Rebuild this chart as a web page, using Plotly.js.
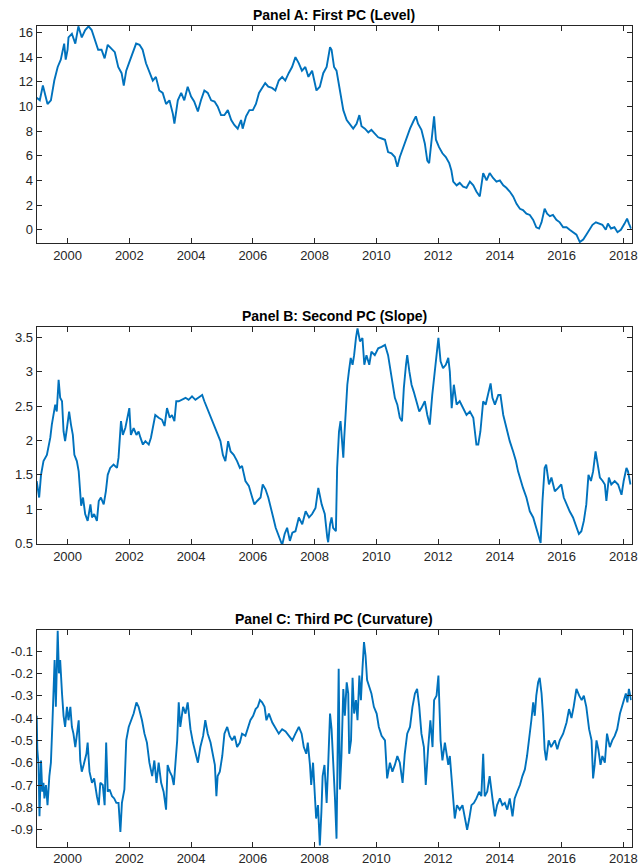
<!DOCTYPE html>
<html>
<head>
<meta charset="utf-8">
<script src="https://cdn.plot.ly/plotly-3.0.1.min.js"></script>
<style>html,body{margin:0;padding:0;background:#fff;}#chart{width:638px;height:866px;}</style>
</head>
<body>
<div id="chart"></div>
<script>
// ---------- Data ----------
const titles = ["Panel A: First PC (Level)", "Panel B: Second PC (Slope)", "Panel C: Third PC (Curvature)"];

const levelYears = [1999.0,1999.1,1999.2,1999.35,1999.46,1999.57,1999.68,1999.78,1999.89,1999.94,2000.0,2000.03,2000.14,2000.25,2000.35,2000.46,2000.57,2000.68,2000.78,2000.89,2000.99,2001.1,2001.2,2001.3,2001.42,2001.53,2001.64,2001.75,2001.82,2001.9,2002.0,2002.11,2002.22,2002.33,2002.43,2002.54,2002.65,2002.76,2002.86,2002.97,2003.08,2003.19,2003.3,2003.41,2003.46,2003.57,2003.68,2003.78,2003.89,2004.0,2004.1,2004.22,2004.32,2004.43,2004.54,2004.65,2004.76,2004.86,2004.97,2005.08,2005.19,2005.3,2005.4,2005.51,2005.62,2005.67,2005.78,2005.89,2006.0,2006.1,2006.2,2006.3,2006.4,2006.5,2006.62,2006.73,2006.84,2006.95,2007.05,2007.16,2007.27,2007.38,2007.49,2007.59,2007.7,2007.8,2007.92,2008.06,2008.17,2008.28,2008.39,2008.5,2008.55,2008.63,2008.71,2008.8,2008.87,2008.93,2009.04,2009.14,2009.25,2009.36,2009.45,2009.52,2009.63,2009.74,2009.84,2009.95,2010.06,2010.17,2010.28,2010.38,2010.49,2010.6,2010.68,2010.76,2010.87,2010.98,2011.09,2011.2,2011.28,2011.35,2011.46,2011.57,2011.65,2011.71,2011.79,2011.87,2011.93,2012.03,2012.14,2012.25,2012.36,2012.43,2012.49,2012.6,2012.7,2012.81,2012.92,2013.03,2013.14,2013.24,2013.35,2013.46,2013.57,2013.67,2013.78,2013.89,2014.0,2014.11,2014.21,2014.32,2014.43,2014.54,2014.65,2014.75,2014.86,2014.97,2015.08,2015.18,2015.27,2015.35,2015.45,2015.53,2015.62,2015.72,2015.83,2015.94,2016.05,2016.16,2016.26,2016.37,2016.48,2016.59,2016.7,2016.8,2016.9,2017.0,2017.11,2017.21,2017.32,2017.43,2017.5,2017.6,2017.71,2017.81,2017.92,2018.04,2018.12,2018.18,2018.25];
const levelValues = [10.7,10.5,11.7,10.2,10.5,12.1,13.2,13.8,15.1,13.8,14.6,15.6,15.9,15.1,16.5,15.6,16.2,16.5,16.2,15.4,14.6,14.6,13.9,15.0,14.7,14.4,13.2,12.7,11.7,12.9,13.6,14.3,15.1,15.0,14.6,13.5,12.8,12.1,12.4,11.3,11.1,10.2,10.5,9.4,8.6,10.5,11.1,10.5,11.6,10.8,10.4,9.6,10.5,11.3,11.1,10.5,10.4,10.0,9.3,9.3,9.7,8.9,8.5,8.2,8.9,8.2,9.2,9.7,9.7,10.2,11.1,11.5,11.9,11.6,11.5,11.3,12.1,12.4,12.1,12.7,13.2,14.0,13.5,12.9,13.2,12.4,12.9,11.3,11.6,12.7,13.2,14.8,14.6,13.2,12.9,11.6,10.5,9.7,8.9,8.6,8.2,8.6,9.3,8.4,8.2,7.9,8.1,7.8,7.5,7.4,7.3,6.3,6.2,5.9,5.1,5.9,6.7,7.4,8.2,8.8,9.2,8.6,8.1,7.0,5.6,5.4,7.5,9.2,7.3,6.7,6.2,5.9,5.4,4.8,3.9,3.6,3.8,3.5,3.4,3.9,3.6,3.1,2.7,4.6,4.0,4.6,4.2,3.9,4.0,3.6,3.4,3.1,2.7,2.1,1.7,1.6,1.3,1.2,0.8,0.2,0.1,0.6,1.7,1.3,1.1,1.2,0.8,0.6,0.2,0.2,0.0,-0.2,-0.4,-1.0,-0.8,-0.4,0.0,0.4,0.6,0.5,0.4,0.0,0.5,0.1,0.2,-0.2,0.0,0.5,0.9,0.5,0.1];

const slopeYears = [1999.0,1999.04,1999.08,1999.14,1999.22,1999.33,1999.44,1999.49,1999.55,1999.6,1999.65,1999.71,1999.76,1999.82,1999.87,1999.92,1999.98,2000.05,2000.11,2000.17,2000.22,2000.3,2000.36,2000.41,2000.44,2000.5,2000.57,2000.65,2000.74,2000.79,2000.86,2000.95,2001.01,2001.08,2001.17,2001.24,2001.3,2001.38,2001.49,2001.6,2001.65,2001.73,2001.79,2001.87,2001.95,2002.0,2002.05,2002.14,2002.23,2002.3,2002.36,2002.44,2002.52,2002.63,2002.7,2002.77,2002.84,2002.95,2003.06,2003.14,2003.22,2003.31,2003.38,2003.46,2003.52,2003.6,2003.71,2003.82,2003.92,2004.03,2004.14,2004.25,2004.36,2004.43,2004.52,2004.63,2004.74,2004.84,2004.95,2005.03,2005.11,2005.2,2005.28,2005.38,2005.49,2005.58,2005.65,2005.76,2005.87,2005.98,2006.05,2006.14,2006.25,2006.32,2006.41,2006.5,2006.57,2006.66,2006.74,2006.81,2006.9,2006.95,2007.03,2007.11,2007.2,2007.28,2007.38,2007.49,2007.6,2007.71,2007.82,2007.92,2008.03,2008.12,2008.23,2008.33,2008.41,2008.44,2008.5,2008.55,2008.6,2008.69,2008.73,2008.79,2008.84,2008.9,2008.93,2008.96,2009.0,2009.06,2009.11,2009.17,2009.23,2009.28,2009.34,2009.39,2009.47,2009.55,2009.61,2009.68,2009.77,2009.84,2009.95,2010.06,2010.17,2010.28,2010.38,2010.44,2010.52,2010.6,2010.68,2010.76,2010.83,2010.89,2010.96,2011.0,2011.07,2011.14,2011.21,2011.3,2011.39,2011.46,2011.57,2011.65,2011.73,2011.81,2011.89,2011.97,2012.01,2012.08,2012.16,2012.25,2012.33,2012.38,2012.44,2012.51,2012.6,2012.7,2012.81,2012.92,2013.03,2013.14,2013.24,2013.3,2013.37,2013.46,2013.54,2013.62,2013.7,2013.76,2013.84,2013.95,2014.02,2014.11,2014.21,2014.32,2014.43,2014.52,2014.59,2014.67,2014.75,2014.86,2014.97,2015.08,2015.18,2015.27,2015.32,2015.38,2015.45,2015.5,2015.59,2015.67,2015.78,2015.89,2015.99,2016.07,2016.16,2016.26,2016.37,2016.48,2016.56,2016.64,2016.72,2016.8,2016.87,2016.95,2017.02,2017.1,2017.15,2017.24,2017.33,2017.4,2017.45,2017.53,2017.61,2017.72,2017.83,2017.94,2018.01,2018.1,2018.15,2018.23];
const slopeValues = [1.41,1.26,1.17,1.5,1.7,1.79,2.04,2.23,2.37,2.52,2.42,2.88,2.62,2.57,2.13,1.99,2.18,2.42,2.23,2.08,1.79,1.7,1.55,1.21,1.05,1.17,0.93,0.83,1.07,0.88,0.93,0.83,1.12,1.17,1.07,1.26,1.5,1.6,1.65,1.6,1.75,2.28,2.08,2.18,2.33,2.47,2.08,2.18,2.08,2.13,2.04,1.94,1.99,1.94,2.04,2.23,2.37,2.33,2.3,2.21,2.47,2.33,2.37,2.28,2.57,2.57,2.59,2.62,2.59,2.64,2.59,2.62,2.66,2.57,2.47,2.37,2.23,2.13,1.99,1.79,1.7,1.99,1.84,1.79,1.7,1.6,1.63,1.41,1.34,1.17,1.07,1.12,1.17,1.36,1.29,1.17,1.02,0.88,0.73,0.64,0.54,0.48,0.64,0.73,0.54,0.66,0.68,0.88,0.78,0.97,0.88,0.93,1.02,1.31,1.07,0.93,0.59,0.52,0.78,0.88,0.73,0.68,1.6,2.13,2.28,1.94,1.75,2.04,2.42,2.81,3.0,3.2,3.1,3.24,3.49,3.63,3.44,3.49,3.1,3.24,3.1,3.29,3.24,3.34,3.36,3.39,3.24,3.05,2.86,2.62,2.52,2.33,2.28,2.76,3.1,3.24,3.0,2.81,2.71,2.57,2.42,2.47,2.57,2.37,2.23,2.66,3.0,3.29,3.49,3.15,3.05,3.1,3.2,3.0,2.47,2.81,2.52,2.57,2.47,2.37,2.42,2.33,1.94,1.94,2.13,2.57,2.52,2.66,2.83,2.62,2.52,2.66,2.66,2.37,2.18,1.99,1.84,1.7,1.55,1.41,1.31,1.17,0.97,0.88,0.73,0.59,0.51,1.12,1.6,1.65,1.36,1.46,1.26,1.31,1.36,1.17,1.07,0.97,0.88,0.73,0.64,0.68,0.83,1.07,1.5,1.41,1.55,1.84,1.7,1.46,1.41,1.36,1.12,1.46,1.36,1.41,1.36,1.21,1.41,1.6,1.55,1.36];

const curvYears = [1999.0,1999.02,1999.06,1999.09,1999.14,1999.18,1999.22,1999.25,1999.3,1999.35,1999.41,1999.46,1999.51,1999.55,1999.58,1999.62,1999.68,1999.72,1999.76,1999.82,1999.87,1999.92,1999.98,2000.03,2000.09,2000.14,2000.19,2000.25,2000.3,2000.36,2000.41,2000.46,2000.52,2000.61,2000.65,2000.71,2000.79,2000.86,2000.95,2001.01,2001.06,2001.14,2001.2,2001.25,2001.3,2001.36,2001.44,2001.51,2001.58,2001.65,2001.71,2001.76,2001.84,2001.9,2001.98,2002.05,2002.14,2002.23,2002.3,2002.41,2002.49,2002.57,2002.65,2002.74,2002.81,2002.88,2002.95,2003.03,2003.11,2003.19,2003.24,2003.31,2003.38,2003.44,2003.49,2003.55,2003.6,2003.65,2003.74,2003.82,2003.89,2003.98,2004.06,2004.14,2004.22,2004.3,2004.39,2004.46,2004.54,2004.63,2004.7,2004.77,2004.82,2004.86,2004.93,2005.01,2005.08,2005.17,2005.25,2005.33,2005.41,2005.49,2005.58,2005.65,2005.76,2005.84,2005.92,2006.01,2006.09,2006.16,2006.23,2006.3,2006.38,2006.44,2006.52,2006.63,2006.74,2006.84,2006.95,2007.06,2007.17,2007.28,2007.38,2007.49,2007.58,2007.65,2007.73,2007.78,2007.85,2007.89,2007.95,2008.0,2008.05,2008.11,2008.17,2008.22,2008.26,2008.32,2008.39,2008.44,2008.5,2008.55,2008.6,2008.66,2008.71,2008.74,2008.78,2008.82,2008.87,2008.93,2008.98,2009.04,2009.09,2009.12,2009.18,2009.23,2009.28,2009.34,2009.39,2009.45,2009.5,2009.55,2009.6,2009.65,2009.7,2009.77,2009.84,2009.92,2010.01,2010.08,2010.17,2010.28,2010.35,2010.44,2010.52,2010.6,2010.68,2010.76,2010.85,2010.92,2011.0,2011.09,2011.17,2011.25,2011.32,2011.39,2011.46,2011.54,2011.6,2011.68,2011.75,2011.82,2011.87,2011.95,2012.01,2012.08,2012.14,2012.22,2012.27,2012.33,2012.38,2012.43,2012.49,2012.54,2012.61,2012.7,2012.79,2012.87,2012.94,2013.01,2013.08,2013.16,2013.24,2013.33,2013.4,2013.46,2013.51,2013.59,2013.67,2013.76,2013.84,2013.91,2014.0,2014.08,2014.16,2014.24,2014.32,2014.41,2014.48,2014.56,2014.65,2014.73,2014.81,2014.88,2014.95,2015.02,2015.08,2015.13,2015.18,2015.24,2015.29,2015.35,2015.4,2015.45,2015.5,2015.58,2015.66,2015.78,2015.86,2015.94,2016.05,2016.16,2016.24,2016.32,2016.39,2016.48,2016.57,2016.65,2016.72,2016.8,2016.89,2016.97,2017.02,2017.07,2017.13,2017.19,2017.26,2017.32,2017.4,2017.47,2017.56,2017.64,2017.72,2017.8,2017.89,2017.96,2018.02,2018.08,2018.13,2018.18,2018.25];
const curvValues = [-0.39,-0.54,-0.61,-0.84,-0.59,-0.73,-0.69,-0.76,-0.70,-0.79,-0.66,-0.60,-0.42,-0.29,-0.14,-0.35,-0.01,-0.20,-0.14,-0.29,-0.39,-0.44,-0.35,-0.41,-0.35,-0.44,-0.47,-0.53,-0.47,-0.41,-0.59,-0.64,-0.61,-0.56,-0.51,-0.64,-0.69,-0.67,-0.75,-0.79,-0.69,-0.70,-0.79,-0.51,-0.73,-0.72,-0.75,-0.76,-0.78,-0.78,-0.91,-0.78,-0.72,-0.50,-0.44,-0.41,-0.38,-0.33,-0.35,-0.41,-0.47,-0.51,-0.60,-0.66,-0.59,-0.69,-0.60,-0.69,-0.73,-0.81,-0.61,-0.64,-0.66,-0.70,-0.60,-0.50,-0.33,-0.44,-0.35,-0.38,-0.33,-0.45,-0.51,-0.56,-0.60,-0.53,-0.48,-0.41,-0.47,-0.51,-0.56,-0.61,-0.75,-0.66,-0.64,-0.57,-0.47,-0.44,-0.48,-0.50,-0.48,-0.53,-0.51,-0.47,-0.48,-0.44,-0.41,-0.39,-0.36,-0.35,-0.32,-0.33,-0.35,-0.41,-0.38,-0.42,-0.45,-0.47,-0.45,-0.46,-0.48,-0.50,-0.47,-0.44,-0.47,-0.53,-0.56,-0.51,-0.61,-0.70,-0.60,-0.76,-0.85,-0.79,-0.97,-0.82,-0.66,-0.61,-0.78,-0.61,-0.38,-0.45,-0.57,-0.76,-0.94,-0.57,-0.18,-0.72,-0.57,-0.27,-0.39,-0.24,-0.29,-0.56,-0.50,-0.22,-0.38,-0.32,-0.41,-0.21,-0.32,-0.18,-0.06,-0.12,-0.23,-0.26,-0.29,-0.35,-0.38,-0.44,-0.48,-0.50,-0.67,-0.60,-0.64,-0.61,-0.57,-0.60,-0.69,-0.56,-0.47,-0.44,-0.35,-0.29,-0.27,-0.35,-0.47,-0.53,-0.70,-0.53,-0.41,-0.53,-0.32,-0.30,-0.21,-0.50,-0.59,-0.51,-0.56,-0.61,-0.57,-0.67,-0.76,-0.85,-0.79,-0.81,-0.79,-0.85,-0.90,-0.85,-0.79,-0.78,-0.76,-0.73,-0.75,-0.56,-0.75,-0.73,-0.66,-0.76,-0.84,-0.79,-0.76,-0.79,-0.78,-0.81,-0.76,-0.84,-0.76,-0.73,-0.70,-0.66,-0.63,-0.57,-0.50,-0.41,-0.33,-0.39,-0.30,-0.24,-0.22,-0.29,-0.39,-0.54,-0.59,-0.50,-0.53,-0.50,-0.54,-0.50,-0.47,-0.42,-0.36,-0.40,-0.35,-0.27,-0.30,-0.32,-0.30,-0.35,-0.45,-0.50,-0.67,-0.61,-0.50,-0.54,-0.61,-0.57,-0.60,-0.47,-0.53,-0.50,-0.48,-0.45,-0.38,-0.35,-0.32,-0.29,-0.33,-0.27,-0.32];

const xTickVals = [2000,2002,2004,2006,2008,2010,2012,2014,2016,2018];
const xTickText = ["2000","2002","2004","2006","2008","2010","2012","2014","2016","2018"];
const levelTickVals = [0,2,4,6,8,10,12,14,16];
const levelTickText = ["0","2","4","6","8","10","12","14","16"];
const slopeTickVals = [0.5,1,1.5,2,2.5,3,3.5];
const slopeTickText = ["0.5","1","1.5","2","2.5","3","3.5"];
const curvTickVals = [-0.9,-0.8,-0.7,-0.6,-0.5,-0.4,-0.3,-0.2,-0.1];
const curvTickText = ["-0.9","-0.8","-0.7","-0.6","-0.5","-0.4","-0.3","-0.2","-0.1"];

// ---------- Layout ----------
const W = 638, H = 866;
const xLeft = 36.7, xRight = 631.7;
const panels = [
  {top: 25.7, bottom: 243.3, range: [-1.1, 16.55], tv: levelTickVals, tt: levelTickText, x: levelYears, y: levelValues},
  {top: 327.3, bottom: 544.3, range: [0.49, 3.645], tv: slopeTickVals, tt: slopeTickText, x: slopeYears, y: slopeValues},
  {top: 630.0, bottom: 846.7, range: [-0.976, -0.006], tv: curvTickVals, tt: curvTickText, x: curvYears, y: curvValues}
];
const fontFam = "'Liberation Sans', Arial, Helvetica, sans-serif";
const axisCol = "#262626";

const traces = [];
const layout = {
  width: W, height: H,
  margin: {l: 0, r: 0, t: 0, b: 0},
  paper_bgcolor: "#ffffff", plot_bgcolor: "#ffffff",
  showlegend: false,
  font: {family: fontFam, size: 13, color: axisCol},
  annotations: []
};

panels.forEach((p, i) => {
  const n = i === 0 ? "" : String(i + 1);
  traces.push({
    type: "scatter", mode: "lines",
    x: p.x, y: p.y,
    xaxis: "x" + n, yaxis: "y" + n,
    line: {color: "#0072BD", width: 1.9},
    hoverinfo: "skip"
  });
  const common = {
    showline: true, linecolor: axisCol, linewidth: 1, mirror: "ticks",
    ticks: "inside", ticklen: 5, tickwidth: 1, tickcolor: axisCol,
    showgrid: false, zeroline: false,
    tickfont: {family: fontFam, size: 13, color: axisCol},
    fixedrange: true
  };
  layout["xaxis" + n] = Object.assign({}, common, {
    domain: [xLeft / W, xRight / W],
    range: [1999.0, 2018.27],
    tickmode: "array", tickvals: xTickVals, ticktext: xTickText,
    anchor: "y" + n
  });
  layout["yaxis" + n] = Object.assign({}, common, {
    domain: [1 - p.bottom / H, 1 - p.top / H],
    range: p.range,
    tickmode: "array", tickvals: p.tv, ticktext: p.tt,
    anchor: "x" + n
  });
  layout.annotations.push({
    text: "<b>" + titles[i] + "</b>",
    xref: "paper", yref: "paper",
    x: (xLeft + xRight) / 2 / W, y: 1 - p.top / H,
    xanchor: "center", yanchor: "bottom", yshift: 1,
    showarrow: false,
    font: {family: fontFam, size: 14, color: "#000000"}
  });
});

Plotly.newPlot("chart", traces, layout, {displayModeBar: false, staticPlot: true});
</script>
</body>
</html>
